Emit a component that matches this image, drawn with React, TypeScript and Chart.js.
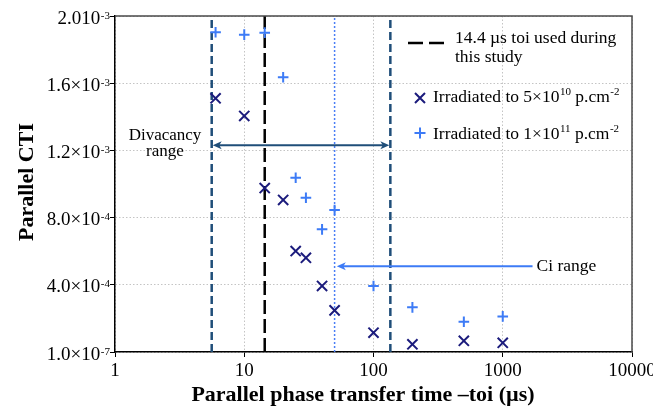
import React, { useEffect, useRef } from 'react';
import { Chart, registerables } from 'chart.js';

Chart.register(...registerables);

// ---- data ----
const toi5e10 = [6, 10, 14.4, 20, 25, 30, 40, 50, 100, 200, 500, 1000];
const cti5e10 = [1.51e-3, 1.405e-3, 0.976e-3, 0.905e-3, 0.601e-3, 0.561e-3, 0.393e-3, 0.248e-3, 0.115e-3, 0.046e-3, 0.067e-3, 0.055e-3];
const toi1e11 = [6, 10, 14.4, 20, 25, 30, 40, 50, 100, 200, 500, 1000];
const cti1e11 = [1.903e-3, 1.889e-3, 1.901e-3, 1.635e-3, 1.037e-3, 0.918e-3, 0.73e-3, 0.845e-3, 0.393e-3, 0.266e-3, 0.18e-3, 0.212e-3];

const xTickValues = [1, 10, 100, 1000, 10000];
const xTickLabels = ['1', '10', '100', '1000', '10000'];
const yTickValues = [1e-7, 4e-4, 8e-4, 1.2e-3, 1.6e-3, 2e-3];
const yTickMantissas = ['1.0×10', '4.0×10', '8.0×10', '1.2×10', '1.6×10', '2.010'];
const yTickExponents = ['-7', '-4', '-4', '-3', '-3', '-3'];

const studyToi = 14.4;
const divacancyBounds = [5.6, 135];
const divacancyArrowCti = 1.23e-3;
const ciToi = 50;
const ciArrowToi = [1700, 52];
const ciArrowCti = 5.1e-4;

const xTitle = 'Parallel phase transfer time –toi (µs)';
const yTitle = 'Parallel CTI';
const legendStudy = ['14.4 µs toi used during', 'this study'];
const legendSeries = [
  ['Irradiated to 5×10', '10', ' p.cm', '-2'],
  ['Irradiated to 1×10', '11', ' p.cm', '-2'],
];
const divacancyText = ['Divacancy', 'range'];
const ciText = 'Ci range';

const NAVY = '#1b1b7c';
const BLUE = '#3d7bf6';
const TEAL = '#1f4e79';
const SERIF = '"Liberation Serif", "Times New Roman", serif';

function arrowHead(ctx: CanvasRenderingContext2D, tipX: number, tipY: number, dir: number, color: string) {
  ctx.save();
  ctx.fillStyle = color;
  ctx.beginPath();
  ctx.moveTo(tipX, tipY);
  ctx.lineTo(tipX - dir * 9, tipY - 4);
  ctx.lineTo(tipX - dir * 6.5, tipY);
  ctx.lineTo(tipX - dir * 9, tipY + 4);
  ctx.closePath();
  ctx.fill();
  ctx.restore();
}

const overlayPlugin = {
  id: 'overlay',
  afterDraw(chart: any) {
    const ctx: CanvasRenderingContext2D = chart.ctx;
    const { left, right, top, bottom } = chart.chartArea;
    const xs = chart.scales.x;
    const ys = chart.scales.y;
    ctx.save();

    // top & right frame
    ctx.strokeStyle = '#4a4a4a';
    ctx.lineWidth = 1.5;
    ctx.beginPath();
    ctx.moveTo(left, top);
    ctx.lineTo(right, top);
    ctx.lineTo(right, bottom);
    ctx.stroke();

    // y tick labels with superscripts
    ctx.fillStyle = '#000';
    ctx.textBaseline = 'alphabetic';
    ctx.textAlign = 'left';
    yTickValues.forEach((v, i) => {
      const py = ys.getPixelForValue(v);
      ctx.font = `11px ${SERIF}`;
      const eW = ctx.measureText(yTickExponents[i]).width;
      const eX = left - 5 - eW;
      ctx.fillText(yTickExponents[i], eX, py + 2.5);
      ctx.font = `19px ${SERIF}`;
      const mW = ctx.measureText(yTickMantissas[i]).width;
      ctx.fillText(yTickMantissas[i], eX - 0.5 - mW, py + 7.5);
    });

    // axis titles
    ctx.font = `bold 22px ${SERIF}`;
    ctx.textAlign = 'center';
    ctx.textBaseline = 'alphabetic';
    ctx.fillText(xTitle, 363, 401);
    ctx.save();
    ctx.translate(33, 182);
    ctx.rotate(-Math.PI / 2);
    ctx.fillText(yTitle, 0, 0);
    ctx.restore();

    // legend
    ctx.textAlign = 'left';
    ctx.strokeStyle = '#000';
    ctx.lineWidth = 2.5;
    ctx.setLineDash([15, 6]);
    ctx.beginPath();
    ctx.moveTo(408, 43);
    ctx.lineTo(444, 43);
    ctx.stroke();
    ctx.setLineDash([]);
    ctx.font = `17.5px ${SERIF}`;
    ctx.fillText(legendStudy[0], 455, 43);
    ctx.fillText(legendStudy[1], 455, 62);

    // legend markers
    ctx.lineWidth = 2;
    ctx.strokeStyle = NAVY;
    const mx = 420, my = 98, d = 5;
    ctx.beginPath();
    ctx.moveTo(mx - d, my - d); ctx.lineTo(mx + d, my + d);
    ctx.moveTo(mx - d, my + d); ctx.lineTo(mx + d, my - d);
    ctx.stroke();
    ctx.strokeStyle = BLUE;
    const px2 = 420, py2 = 133, r2 = 5.5;
    ctx.beginPath();
    ctx.moveTo(px2 - r2, py2); ctx.lineTo(px2 + r2, py2);
    ctx.moveTo(px2, py2 - r2); ctx.lineTo(px2, py2 + r2);
    ctx.stroke();

    const baselines = [102, 138.5];
    legendSeries.forEach((parts, i) => {
      let x = 433;
      const b = baselines[i];
      parts.forEach((p, j) => {
        const sup = j % 2 === 1;
        ctx.font = sup ? `11px ${SERIF}` : `17.5px ${SERIF}`;
        ctx.fillText(p, x, sup ? b - 7 : b);
        x += ctx.measureText(p).width + (sup ? 0 : 0.5);
      });
    });

    // divacancy double arrow
    const dy = ys.getPixelForValue(divacancyArrowCti);
    const dx1 = xs.getPixelForValue(divacancyBounds[0]);
    const dx2 = xs.getPixelForValue(divacancyBounds[1]);
    ctx.strokeStyle = TEAL;
    ctx.lineWidth = 2;
    ctx.beginPath();
    ctx.moveTo(dx1 + 6, dy);
    ctx.lineTo(dx2 - 6, dy);
    ctx.stroke();
    arrowHead(ctx, dx1 + 1, dy, -1, TEAL);
    arrowHead(ctx, dx2 - 1, dy, 1, TEAL);

    ctx.fillStyle = '#000';
    ctx.font = `17px ${SERIF}`;
    ctx.textAlign = 'center';
    ctx.fillText(divacancyText[0], 165, 139.5);
    ctx.fillText(divacancyText[1], 165, 155.5);

    // Ci arrow
    const cy = ys.getPixelForValue(ciArrowCti);
    const cx1 = xs.getPixelForValue(ciArrowToi[0]);
    const cx2 = xs.getPixelForValue(ciArrowToi[1]);
    ctx.strokeStyle = BLUE;
    ctx.lineWidth = 2;
    ctx.beginPath();
    ctx.moveTo(cx1, cy);
    ctx.lineTo(cx2 + 6, cy);
    ctx.stroke();
    arrowHead(ctx, cx2, cy, -1, BLUE);
    ctx.textAlign = 'left';
    ctx.font = `17.5px ${SERIF}`;
    ctx.fillText(ciText, cx1 + 4, cy + 5);

    ctx.restore();
  },
};

function vline(x: number, color: string, width: number, dash: number[]) {
  return {
    data: [
      { x, y: yTickValues[0] },
      { x, y: yTickValues[yTickValues.length - 1] },
    ],
    showLine: true,
    borderColor: color,
    borderWidth: width,
    borderDash: dash,
    pointRadius: 0,
    pointHoverRadius: 0,
  };
}

export default function App() {
  const ref = useRef<HTMLCanvasElement | null>(null);

  useEffect(() => {
    if (!ref.current) return;
    const chart = new Chart(ref.current, {
      type: 'scatter',
      data: {
        datasets: [
          {
            data: toi5e10.map((x, i) => ({ x, y: cti5e10[i] })),
            pointStyle: 'crossRot',
            radius: 7.2,
            borderColor: NAVY,
            backgroundColor: NAVY,
            borderWidth: 2,
          } as any,
          {
            data: toi1e11.map((x, i) => ({ x, y: cti1e11[i] })),
            pointStyle: 'cross',
            radius: 5.3,
            borderColor: BLUE,
            backgroundColor: BLUE,
            borderWidth: 2,
          } as any,
          vline(studyToi, '#000', 2.5, [14, 5]) as any,
          vline(divacancyBounds[0], TEAL, 2.5, [8, 4]) as any,
          vline(divacancyBounds[1], TEAL, 2.5, [8, 4]) as any,
          vline(ciToi, '#4a7ef5', 1.5, [2, 2]) as any,
        ],
      },
      options: {
        responsive: false,
        animation: false,
        events: [],
        layout: { padding: { left: 0, top: 16, right: 21, bottom: 0 } },
        plugins: { legend: { display: false }, tooltip: { enabled: false } },
        scales: {
          x: {
            type: 'logarithmic',
            min: 1,
            max: 10000,
            afterBuildTicks: (s: any) => {
              s.ticks = xTickValues.map((v) => ({ value: v }));
            },
            afterFit: (s: any) => {
              s.height = 58;
              s.paddingLeft = 0;
              s.paddingRight = 0;
            },
            ticks: {
              autoSkip: false,
              maxRotation: 0,
              padding: 3,
              color: '#000',
              font: { family: SERIF, size: 19 },
              callback: (_v: any, i: number) => xTickLabels[i],
            },
            grid: { color: '#c4c4c4', lineWidth: 1, tickColor: '#000', tickLength: 5, tickWidth: 1 },
            border: { display: true, color: '#000', width: 1.5, dash: [1.5, 2] },
          },
          y: {
            type: 'linear',
            min: yTickValues[0],
            max: yTickValues[yTickValues.length - 1],
            afterBuildTicks: (s: any) => {
              s.ticks = yTickValues.map((v) => ({ value: v }));
            },
            afterFit: (s: any) => {
              s.width = 115;
              s.paddingTop = 0;
              s.paddingBottom = 0;
            },
            ticks: { display: false },
            grid: { color: '#c4c4c4', lineWidth: 1, tickColor: '#000', tickLength: 5, tickWidth: 1 },
            border: { display: true, color: '#000', width: 1.5, dash: [1.5, 2] },
          },
        },
      } as any,
      plugins: [overlayPlugin],
    });
    return () => chart.destroy();
  }, []);

  return (
    <div style={{ position: 'fixed', left: 0, top: 0, width: 653, height: 410, background: '#fff' }}>
      <canvas ref={ref} width={653} height={410} style={{ width: 653, height: 410, display: 'block' }} />
    </div>
  );
}
